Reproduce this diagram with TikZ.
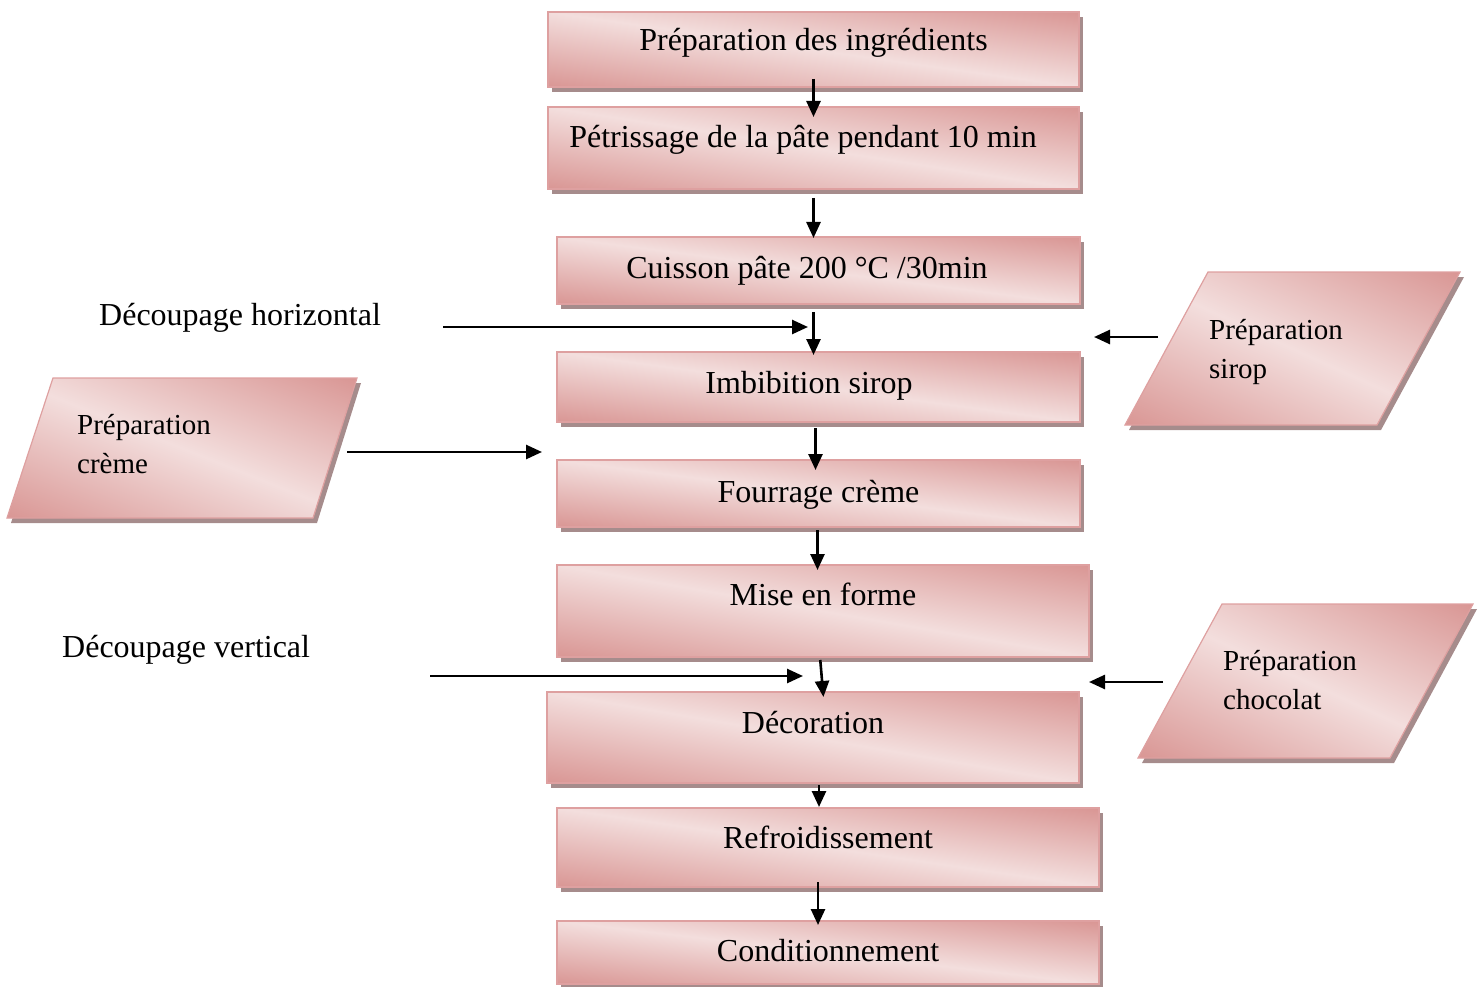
\documentclass[tikz,border=0pt]{standalone}
\usepackage{fontspec}
\setmainfont{Liberation Serif}
\usetikzlibrary{arrows.meta,shadows}
\definecolor{pkline}{RGB}{222,160,160}
\definecolor{shadowgray}{RGB}{166,140,140}
% diagonal dark-light-dark gradient in normalized box coordinates:
% dark at bottom-left and top-right corners, light along the other diagonal
\pgfdeclarefunctionalshading{pinkdiag}{\pgfpointorigin}{\pgfpoint{100bp}{100bp}}{}{%
  add 50 sub 100 div 2 mul 1 sub abs 1 exch sub
  dup 0.102 mul 0.851 add exch
  dup 0.283 mul 0.588 add exch
  0.287 mul 0.580 add
}
\begin{document}
\begin{tikzpicture}[x=1pt,y=-1pt,
  shaped/.style={draw=pkline, line width=1.2pt, shading=pinkdiag,
    general shadow={fill=shadowgray, shadow xshift=4pt, shadow yshift=-5pt}},
  stepbox/.style={shaped, rectangle, inner sep=0pt, outer sep=0pt,
    font=\fontsize{32}{38}\selectfont, text height=22pt},
  lbl/.style={font=\fontsize{32}{38}\selectfont, inner sep=0pt, anchor=base west},
  ptext/.style={font=\fontsize{29}{39}\selectfont, inner sep=0pt, align=left, anchor=base west},
  arr/.style={-{Triangle[length=16pt,width=14pt]}, line width=2.6pt, black}]
\useasboundingbox (0,0) rectangle (1483,987);

% process boxes
\node[stepbox, minimum width=531pt, minimum height=75pt, text depth=19pt] (b1) at (813.5,49.5) {Préparation des ingrédients};
\node[stepbox, minimum width=531pt, minimum height=82pt, text depth=22pt] (b2) at (813.5,148) {Pétrissage de la pâte pendant 10 min\rule{21pt}{0pt}};
\node[stepbox, minimum width=523pt, minimum height=67pt, text depth=7pt] (b3) at (818.5,270.5) {Cuisson pâte 200 °C /30min\rule{23pt}{0pt}};
\node[stepbox, minimum width=523pt, minimum height=70pt, text depth=10pt] (b4) at (818.5,387) {Imbibition sirop\rule{19pt}{0pt}};
\node[stepbox, minimum width=523pt, minimum height=67pt, text depth=5pt] (b5) at (818.5,493.5) {Fourrage crème};
\node[stepbox, minimum width=532pt, minimum height=92pt, text depth=34pt] (b6) at (823,611) {Mise en forme};
\node[stepbox, minimum width=532pt, minimum height=91pt, text depth=31pt] (b7) at (813,737.5) {Décoration};
\node[stepbox, minimum width=542pt, minimum height=79pt, text depth=21pt] (b8) at (828,847.5) {Refroidissement};
\node[stepbox, minimum width=542pt, minimum height=63pt, text depth=5pt] (b9) at (828,952.5) {Conditionnement};

% input parallelograms
\path[shaped] (1208,272) -- (1460,272) -- (1377,425) -- (1125,425) -- cycle;
\node[ptext] (sirop) at (1209,378) {Préparation\\sirop};
\path[shaped] (53,378) -- (357,378) -- (313,518) -- (7,518) -- cycle;
\node[ptext] (creme) at (77,473) {Préparation\\crème};
\path[shaped] (1222,604) -- (1473,604) -- (1390,758) -- (1138,758) -- cycle;
\node[ptext] (choco) at (1223,709) {Préparation\\chocolat};

% side labels
\node[lbl] (dh) at (99,325) {Découpage horizontal};
\node[lbl] (dv) at (62,657) {Découpage vertical};

% free ends of side connectors
\coordinate (dhS) at (443,327);  \coordinate (dhE) at (808,327);
\coordinate (sirS) at (1158,337); \coordinate (sirE) at (1094,337);
\coordinate (crS) at (347,452);  \coordinate (crE) at (542,452);
\coordinate (dvS) at (430,676);  \coordinate (dvE) at (803,676);
\coordinate (chS) at (1163,682); \coordinate (chE) at (1089,682);

% main flow
\draw[arr, shorten <=-8pt, shorten >=-10pt] (b1.south) -- (b2.north);
\draw[arr, shorten <=9pt, shorten >=-1pt] (b2.south) -- (b2.south |- b3.north);
\draw[arr, shorten <=8pt, shorten >=-3pt] (b2.south |- b3.south) -- (b2.south |- b4.north);
\draw[arr, shorten <=6pt, shorten >=-10pt] ([xshift=-3pt]b4.south) -- ([xshift=-3pt]b4.south |- b5.north);
\draw[arr, shorten <=3pt, shorten >=-5pt] ([xshift=-1pt]b5.south) -- ([xshift=-1pt]b5.south |- b6.north);
\draw[arr, shorten <=3pt, shorten >=-5pt] ([xshift=-3pt]b6.south) -- (b6.south |- b7.north);
\draw[arr, shorten <=2pt, shorten >=1pt] ([xshift=6pt]b7.south) -- ([xshift=6pt]b7.south |- b8.north);
\draw[arr, shorten <=-5pt, shorten >=-4pt] ([xshift=-10pt]b8.south) -- ([xshift=-10pt]b8.south |- b9.north);

% side inputs
\draw[arr] (dhS) -- (dhE);
\draw[arr] (sirS) -- (sirE);
\draw[arr] (crS) -- (crE);
\draw[arr] (dvS) -- (dvE);
\draw[arr] (chS) -- (chE);
\end{tikzpicture}
\end{document}
